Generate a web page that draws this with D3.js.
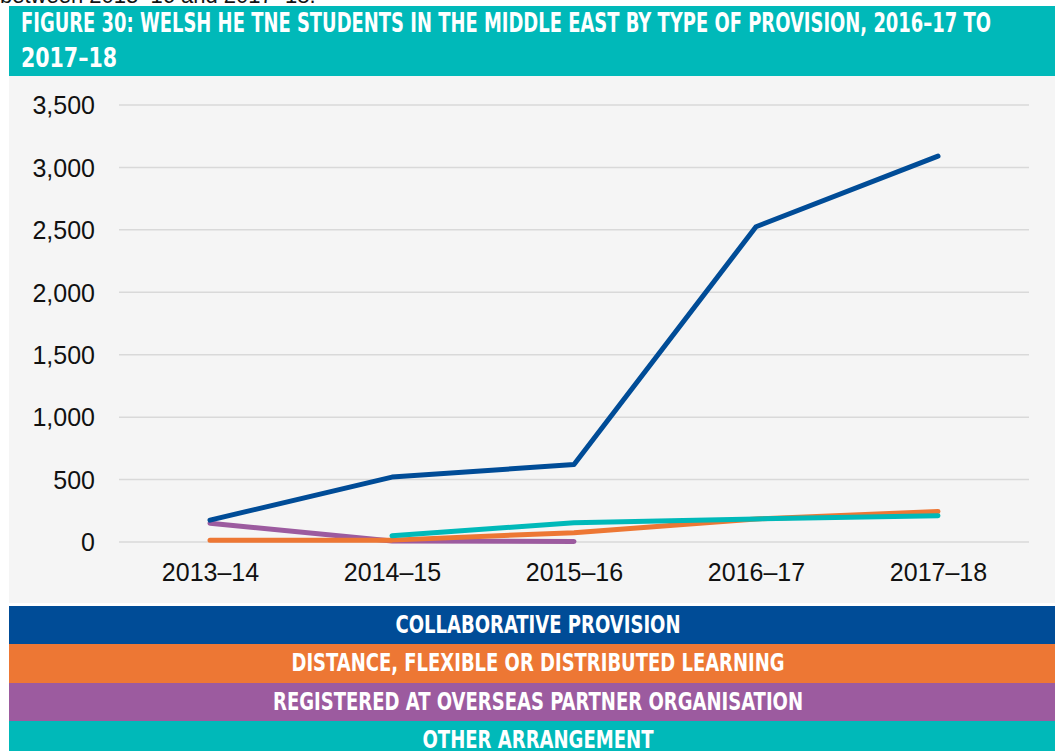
<!DOCTYPE html>
<html>
<head>
<meta charset="utf-8">
<script src="https://cdn.jsdelivr.net/npm/d3@7"></script>
<style>
  body { margin: 0; background: #fff; }
  svg { display: block; }
</style>
</head>
<body>
<div id="graph"></div>
<script>
// data
const years = ["2013–14", "2014–15", "2015–16", "2016–17", "2017–18"];
const collaborative = [175, 520, 620, 2525, 3090];
const distance = [15, 15, 75, 185, 245];
const registered = [150, 8, 5, null, null];
const other = [null, 50, 155, 185, 210];
const yTicks = [0, 500, 1000, 1500, 2000, 2500, 3000, 3500];
const seriesNames = [
  "COLLABORATIVE PROVISION",
  "DISTANCE, FLEXIBLE OR DISTRIBUTED LEARNING",
  "REGISTERED AT OVERSEAS PARTNER ORGANISATION",
  "OTHER ARRANGEMENT"
];

const width = 1055;
const height = 751;
const blue = "#004C97";
const orange = "#ED7734";
const purple = "#9C5B9F";
const teal = "#00B9B9";
const colors = [blue, orange, purple, teal];
const narrow = "'Liberation Sans Narrow', 'DejaVu Sans Condensed', sans-serif";
const plain = "'Liberation Sans', Arial, sans-serif";

const series = [collaborative, distance, registered, other];

let svg = d3.select('#graph')
  .append('svg')
  .attr('width', width)
  .attr('height', height);

// clipped text from previous paragraph
svg.append('text')
  .attr('x', 0)
  .attr('y', 3)
  .attr('font-family', plain)
  .attr('font-size', 22)
  .attr('fill', '#111')
  .text('between 2013–16 and 2017–18.');

// title band
svg.append('rect')
  .attr('x', 9).attr('y', 6)
  .attr('width', width - 9).attr('height', 70)
  .attr('fill', teal);

let titleLines = [
  { text: "FIGURE 30: WELSH HE TNE STUDENTS IN THE MIDDLE EAST BY TYPE OF PROVISION, 2016–17 TO", y: 32, len: 970 },
  { text: "2017–18", y: 67, len: 96 }
];
titleLines.forEach(l => {
  svg.append('text')
    .attr('x', 21)
    .attr('y', l.y)
    .attr('font-family', narrow)
    .attr('font-weight', 'bold')
    .attr('font-size', 27)
    .attr('fill', '#fff')
    .attr('textLength', l.len)
    .attr('lengthAdjust', 'spacingAndGlyphs')
    .text(l.text);
});

// plot background
svg.append('rect')
  .attr('x', 9).attr('y', 76)
  .attr('width', width - 9).attr('height', 527)
  .attr('fill', '#F5F5F5');

const plot = { left: 119, right: 1029, top: 105, bottom: 542 };

let xScale = d3.scalePoint()
  .domain(years)
  .range([plot.left, plot.right])
  .padding(0.5);

let yScale = d3.scaleLinear()
  .domain([0, 3500])
  .range([plot.bottom, plot.top]);

// gridlines
svg.append('g')
  .selectAll('line')
  .data(yTicks)
  .enter()
  .append('line')
  .attr('x1', plot.left)
  .attr('x2', plot.right)
  .attr('y1', d => yScale(d))
  .attr('y2', d => yScale(d))
  .attr('stroke', '#D9D9D9')
  .attr('stroke-width', 1.5);

// y axis
let yAxis = d3.axisLeft(yScale)
  .tickValues(yTicks)
  .tickFormat(d3.format(",d"))
  .tickSize(0)
  .tickPadding(0);

let yG = svg.append('g')
  .attr('transform', `translate(95, 0)`)
  .call(yAxis);
yG.select('.domain').remove();
yG.selectAll('text')
  .attr('font-family', plain)
  .attr('font-size', 25)
  .attr('fill', '#111')
  .attr('dy', '0.35em');

// x axis
let xAxis = d3.axisBottom(xScale)
  .tickSize(0)
  .tickPadding(0);

let xG = svg.append('g')
  .attr('transform', `translate(0, ${plot.bottom})`)
  .call(xAxis);
xG.select('.domain').remove();
xG.selectAll('text')
  .attr('font-family', plain)
  .attr('font-size', 25)
  .attr('fill', '#111')
  .attr('dy', 0)
  .attr('y', 39);

// lines
let line = d3.line()
  .defined(d => d.v !== null)
  .x(d => xScale(d.year))
  .y(d => yScale(d.v));

let lineChart = svg.append('g').attr('class', 'line-chart');
// draw order: registered, distance, other, collaborative
[2, 1, 3, 0].forEach(i => {
  let pts = years.map((y, j) => ({ year: y, v: series[i][j] }));
  lineChart.append('path')
    .datum(pts)
    .attr('fill', 'none')
    .attr('stroke', colors[i])
    .attr('stroke-width', 5)
    .attr('stroke-linecap', 'round')
    .attr('stroke-linejoin', 'round')
    .attr('d', line);
});

// legend bands
let bandTops = [606, 644, 683, 721];
let bandBottoms = [644, 683, 721, 760];
let legendLens = [285, 493, 530, 231];
seriesNames.forEach((name, i) => {
  svg.append('rect')
    .attr('x', 9)
    .attr('y', bandTops[i])
    .attr('width', width - 9)
    .attr('height', bandBottoms[i] - bandTops[i])
    .attr('fill', colors[i]);
  svg.append('text')
    .attr('x', 538)
    .attr('y', bandTops[i] + 27)
    .attr('text-anchor', 'middle')
    .attr('font-family', narrow)
    .attr('font-weight', 'bold')
    .attr('font-size', 25)
    .attr('fill', '#fff')
    .attr('textLength', legendLens[i])
    .attr('lengthAdjust', 'spacingAndGlyphs')
    .text(name);
});
</script>
</body>
</html>
